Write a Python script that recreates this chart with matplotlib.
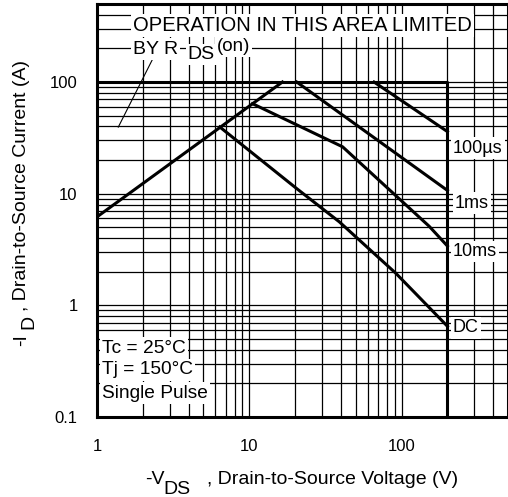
import matplotlib
matplotlib.use('Agg')
import matplotlib.pyplot as plt
from matplotlib.ticker import NullFormatter

plt.rcParams['font.family'] = ['Liberation Sans', 'DejaVu Sans']

# safe operating area (V, A)
rds_v = [1, 16.5]
rds_i = [6.2, 100]
limit_v = [1, 200, 200]
limit_i = [100, 100, 0.1]
us100_v = [66, 200]
us100_i = [100, 36]
ms1_v = [20.5, 200]
ms1_i = [100, 10.7]
ms10_v = [10.5, 41, 152, 200]
ms10_i = [64, 26.3, 5.1, 3.4]
dc_v = [6.4, 20.5, 39, 92, 200]
dc_i = [39.6, 11.1, 5.6, 1.93, 0.65]

x_ticks = [1, 10, 100]
x_tick_labels = ['1', '10', '100']
y_ticks = [0.1, 1, 10, 100]
y_tick_labels = ['0.1', '1', '10', '100']

curve_labels = ['100\u00b5s', '1ms', '10ms', 'DC']
conditions = ['Tc = 25\u00b0C', 'Tj = 150\u00b0C', 'Single Pulse']

W, H = 508, 497
fig = plt.figure(figsize=(W / 100, H / 100), dpi=100)
ax = fig.add_axes([97 / W, 80 / H, 411 / W, 413 / H])
ax.set_xscale('log')
ax.set_yscale('log')
ax.set_xlim(1, 500)
ax.set_ylim(0.1, 500)

ax.set_axisbelow(True)
ax.grid(True, which='both', color='black', lw=0.9)
ax.set_xticks(x_ticks)
ax.set_xticklabels(x_tick_labels)
ax.set_yticks(y_ticks)
ax.set_yticklabels(y_tick_labels)
ax.xaxis.set_minor_formatter(NullFormatter())
ax.yaxis.set_minor_formatter(NullFormatter())
ax.tick_params(which='both', length=0, labelsize=12)
ax.tick_params(axis='x', pad=16)
ax.tick_params(axis='y', pad=14)
for s in ax.spines.values():
    s.set_linewidth(2.2)

lw = 2.2
ax.plot(rds_v, rds_i, color='black', lw=lw)
ax.plot(limit_v, limit_i, color='black', lw=lw)
ax.plot(us100_v, us100_i, color='black', lw=lw)
ax.plot(ms1_v, ms1_i, color='black', lw=lw)
ax.plot(ms10_v, ms10_i, color='black', lw=lw)
ax.plot(dc_v, dc_i, color='black', lw=lw)

# leader line from the note to the R_DS(on) line
ax.plot([2.3, 1.38], [157, 39.5], color='black', lw=0.8)

box = dict(facecolor='white', edgecolor='none', pad=1.5)
ax.text(0.0876, 0.949, 'OPERATION IN THIS AREA LIMITED', transform=ax.transAxes,
        fontsize=14.6, va='center', ha='left', bbox=box)
ax.text(0.0876, 0.891, 'BY R', transform=ax.transAxes,
        fontsize=14, va='center', ha='left', bbox=box)
ax.text(0.221, 0.877, 'DS', transform=ax.transAxes,
        fontsize=14, va='center', ha='left', bbox=box)
ax.text(0.292, 0.898, '(on)', transform=ax.transAxes,
        fontsize=13.5, va='center', ha='left', bbox=box)

label_y = [0.651, 0.518, 0.400, 0.2155]
label_x = [0.866, 0.871, 0.866, 0.866]
for lab, lx, ly in zip(curve_labels, label_x, label_y):
    ax.text(lx, ly, lab, transform=ax.transAxes, fontsize=13,
            va='center', ha='left', bbox=box)

cond_y = [0.167, 0.114, 0.058]
for lab, cy in zip(conditions, cond_y):
    ax.text(0.013, cy, lab, transform=ax.transAxes, fontsize=13.8,
            va='center', ha='left', bbox=box)

# axis titles with the odd datasheet subscripts
fig.text(145 / W, 1 - 480 / H, '-V', fontsize=14, va='center', ha='left')
fig.text(163 / W, 1 - 489 / H, 'DS', fontsize=14, va='center', ha='left')
fig.text(207 / W, 1 - 480 / H, ', Drain-to-Source Voltage (V)', fontsize=14,
         va='center', ha='left')

fig.text(22 / W, 1 - 340 / H, '-I', fontsize=14, va='center', ha='center',
         rotation=90)
fig.text(29 / W, 1 - 322 / H, 'D', fontsize=14, va='center', ha='center',
         rotation=90)
fig.text(22 / W, 1 - 311 / H, ', Drain-to-Source Current (A)', fontsize=14,
         va='bottom', ha='center', rotation=90)

fig.savefig('out.png', dpi=100)
